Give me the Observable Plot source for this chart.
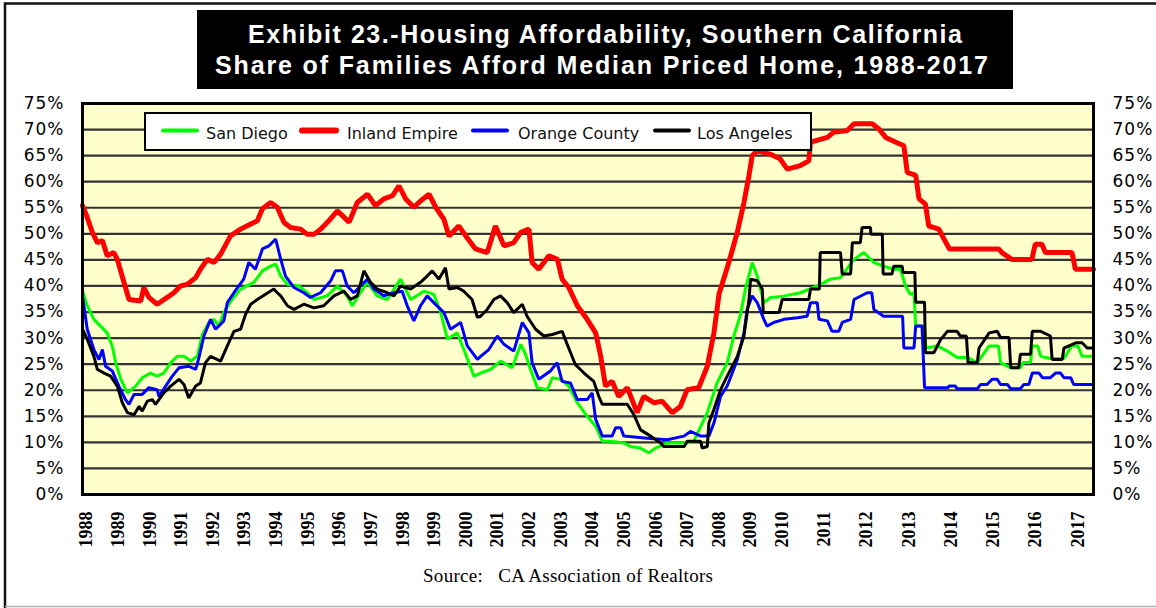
<!DOCTYPE html>
<html>
<head>
<meta charset="utf-8">
<script src="https://cdn.jsdelivr.net/npm/d3@7"></script>
<script src="https://cdn.jsdelivr.net/npm/@observablehq/plot@0.6"></script>
<style>
html, body { margin: 0; padding: 0; background: #fff; }
#page { position: relative; width: 1156px; height: 608px; overflow: hidden; background: #fff; }
#page > svg { position: absolute; left: 0; top: 0; }
g[aria-label="y-axis tick label"] { letter-spacing: 1px; }
</style>
</head>
<body>
<div id="page"></div>
<script>
// ---------- text ----------
const titleLines = [
  "Exhibit 23.-Housing Affordability, Southern California",
  "Share of Families Afford Median Priced Home, 1988-2017"
];
const sourceText = "Source:   CA Association of Realtors";
const seriesNames = ["San Diego", "Inland Empire", "Orange County", "Los Angeles"];
const seriesColors = ["#00ff00", "#ff0000", "#0000ff", "#000000"];
const seriesWidths = [3, 5, 3, 3];

// ---------- ticks ----------
const yTicks = d3.range(0, 80, 5);          // 0% .. 75%
const yearTicks = d3.range(1988, 2018);     // 1988 .. 2017

// ---------- data: [year, share of families (%)] ----------
const sanDiego = [
[1987.87,39.0],[1988.02,36.2],[1988.23,33.6],[1988.44,32.3],[1988.65,31.0],[1988.81,28.5],[1988.92,25.3],
[1989.08,22.1],[1989.29,19.5],[1989.55,20.8],[1989.76,22.4],[1990.02,23.3],[1990.23,22.7],[1990.44,23.3],
[1990.66,25.3],[1990.87,26.5],[1991.08,26.5],[1991.29,25.6],[1991.5,26.5],[1991.66,30.7],[1991.87,33.0],
[1992.03,33.6],[1992.18,32.3],[1992.34,34.9],[1992.55,37.0],[1992.87,39.4],[1993.29,40.7],[1993.56,42.9],
[1993.82,43.8],[1993.98,44.2],[1994.14,41.9],[1994.35,40.3],[1994.71,40.0],[1994.98,38.7],[1995.19,37.4],
[1995.61,38.1],[1995.93,40.0],[1996.24,38.1],[1996.4,36.2],[1996.66,38.7],[1996.88,40.7],[1997.19,38.1],
[1997.51,37.4],[1997.93,41.3],[1998.25,37.4],[1998.67,39.0],[1998.98,38.4],[1999.2,34.9],[1999.41,29.8],
[1999.72,31.0],[1999.93,27.8],[2000.25,22.7],[2000.46,23.3],[2000.78,24.0],[2001.09,25.6],[2001.46,24.3],
[2001.73,28.8],[2001.88,26.9],[2002.04,24.0],[2002.25,20.5],[2002.57,20.1],[2002.73,22.4],[2002.99,22.1],
[2003.25,20.8],[2003.52,17.6],[2003.83,15.0],[2004.1,13.1],[2004.31,10.2],[2004.57,10.2],[2004.99,9.9],
[2005.2,9.2],[2005.51,8.9],[2005.78,8.0],[2005.99,8.9],[2006.36,9.9],[2006.78,9.9],[2007.2,10.2],
[2007.63,15.7],[2007.94,21.4],[2008.26,25.3],[2008.47,30.4],[2008.68,34.5],[2008.84,39.5],[2009.05,44.5],
[2009.21,41.9],[2009.42,36.8],[2009.63,37.8],[2010.0,38.0],[2010.43,38.7],[2010.83,40.0],[2011.14,41.3],
[2011.38,41.6],[2011.7,45.1],[2011.93,46.4],[2012.17,44.5],[2012.4,43.8],[2012.64,43.2],[2012.8,43.2],
[2012.92,40.0],[2013.03,38.4],[2013.12,38.7],[2013.16,32.3],[2013.37,32.3],[2013.4,28.1],[2013.67,28.5],
[2013.91,27.5],[2014.14,26.3],[2014.38,26.3],[2014.62,25.3],[2014.9,28.5],[2015.12,28.5],[2015.17,25.3],
[2015.41,24.3],[2015.64,24.3],[2015.7,25.3],[2015.88,25.3],[2015.92,28.5],[2016.05,28.5],[2016.12,26.5],
[2016.35,26.1],[2016.67,26.1],[2016.85,28.5],[2017.0,28.5],[2017.1,26.5],[2017.37,26.5]
];
const inlandEmpire = [
[1987.87,55.4],[1988.0,53.5],[1988.18,50.3],[1988.34,48.3],[1988.5,48.7],[1988.65,45.8],[1988.86,46.4],
[1988.97,45.1],[1989.18,40.7],[1989.34,37.4],[1989.71,37.1],[1989.81,39.7],[1989.97,37.8],[1990.23,36.5],
[1990.55,37.8],[1990.76,38.7],[1990.97,40.0],[1991.18,40.3],[1991.45,41.6],[1991.6,43.2],[1991.82,45.1],
[1992.03,44.5],[1992.24,46.1],[1992.55,49.6],[1992.87,50.9],[1993.19,51.9],[1993.4,52.5],[1993.56,54.8],
[1993.82,56.0],[1994.03,55.1],[1994.24,52.2],[1994.45,51.2],[1994.77,50.9],[1994.98,49.9],[1995.19,49.9],
[1995.4,50.9],[1995.66,52.5],[1995.93,54.4],[1996.14,53.2],[1996.3,52.2],[1996.56,56.0],[1996.88,57.6],
[1997.14,55.4],[1997.4,56.7],[1997.67,57.3],[1997.88,59.2],[1998.09,56.7],[1998.35,55.1],[1998.56,56.3],
[1998.83,57.6],[1999.04,55.1],[1999.3,52.8],[1999.46,49.6],[1999.77,51.5],[1999.99,49.6],[2000.3,47.1],
[2000.67,46.4],[2000.93,51.5],[2001.2,47.7],[2001.51,48.3],[2001.73,50.3],[2001.99,50.9],[2002.09,44.5],
[2002.3,43.2],[2002.62,45.8],[2002.89,45.1],[2003.04,41.3],[2003.25,39.7],[2003.52,36.2],[2003.83,33.6],
[2004.1,31.0],[2004.26,26.5],[2004.41,20.8],[2004.62,21.7],[2004.83,18.8],[2005.1,20.5],[2005.41,15.7],
[2005.62,18.8],[2005.94,17.6],[2006.2,17.9],[2006.52,15.7],[2006.78,16.9],[2006.99,20.1],[2007.36,20.5],
[2007.63,24.6],[2007.84,31.0],[2008.0,38.4],[2008.31,44.5],[2008.58,50.3],[2008.79,56.0],[2008.95,61.2],
[2009.05,65.0],[2009.21,66.0],[2009.61,65.3],[2009.93,64.4],[2010.12,62.4],[2010.43,63.1],[2010.63,64.0],
[2010.67,67.6],[2011.07,68.5],[2011.22,69.5],[2011.54,69.8],[2011.7,71.1],[2012.13,71.1],[2012.29,70.1],
[2012.45,68.5],[2012.68,67.6],[2012.88,66.9],[2012.96,61.8],[2013.16,61.2],[2013.24,56.7],[2013.39,55.7],
[2013.47,51.5],[2013.71,50.9],[2013.83,49.0],[2013.96,47.1],[2015.13,47.1],[2015.2,46.4],[2015.44,45.1],
[2015.91,45.1],[2015.99,48.0],[2016.15,48.0],[2016.23,46.4],[2016.86,46.4],[2016.94,43.2],[2017.37,43.2]
];
const orangeCounty = [
[1987.87,38.1],[1988.02,31.7],[1988.23,27.8],[1988.39,25.9],[1988.5,27.8],[1988.6,24.6],[1988.81,23.7],
[1989.02,20.8],[1989.23,18.2],[1989.34,17.3],[1989.5,19.2],[1989.76,19.2],[1989.97,20.5],[1990.23,20.1],
[1990.29,18.8],[1990.5,20.8],[1990.71,22.7],[1990.92,24.3],[1991.23,24.6],[1991.45,24.0],[1991.55,26.2],
[1991.71,30.4],[1991.92,33.6],[1992.08,31.7],[1992.34,33.3],[1992.45,36.8],[1992.66,38.7],[1992.97,41.3],
[1993.13,44.5],[1993.34,43.2],[1993.56,47.1],[1993.77,47.7],[1993.98,49.0],[1994.14,45.1],[1994.29,41.9],
[1994.56,39.7],[1994.87,38.7],[1995.08,37.8],[1995.4,38.7],[1995.72,41.0],[1995.87,42.9],[1996.09,42.9],
[1996.24,40.0],[1996.45,38.7],[1996.88,41.3],[1997.09,39.4],[1997.4,38.1],[1997.72,38.7],[1997.98,39.0],
[1998.14,36.2],[1998.35,33.3],[1998.56,36.2],[1998.77,38.1],[1998.98,36.8],[1999.3,34.9],[1999.51,31.7],
[1999.83,33.0],[2000.04,28.5],[2000.36,25.9],[2000.46,26.5],[2000.72,27.8],[2000.99,30.4],[2001.2,28.8],
[2001.51,27.5],[2001.78,33.0],[2001.99,31.0],[2002.09,25.3],[2002.3,22.1],[2002.67,23.7],[2002.88,25.3],
[2003.04,21.7],[2003.3,21.4],[2003.52,18.2],[2003.83,18.2],[2003.99,19.5],[2004.1,14.4],[2004.31,11.2],
[2004.62,11.2],[2004.73,12.8],[2004.89,12.8],[2004.99,11.2],[2005.73,10.8],[2006.36,10.5],[2006.89,11.2],
[2007.1,12.1],[2007.42,11.2],[2007.68,11.2],[2007.84,13.7],[2008.05,18.8],[2008.26,20.8],[2008.42,23.3],
[2008.58,25.9],[2008.79,31.0],[2008.89,35.5],[2009.05,38.1],[2009.21,36.8],[2009.42,33.6],[2009.52,32.3],
[2009.73,33.0],[2010.04,33.6],[2010.36,33.9],[2010.59,34.2],[2010.67,36.8],[2010.83,36.8],[2010.87,33.6],
[2011.07,33.3],[2011.18,31.3],[2011.34,31.3],[2011.42,33.0],[2011.62,33.6],[2011.7,37.4],[2012.01,38.7],
[2012.12,38.7],[2012.17,35.5],[2012.4,34.2],[2012.85,34.2],[2012.88,28.1],[2013.12,28.1],[2013.16,32.3],
[2013.31,32.3],[2013.37,20.5],[2013.93,20.5],[2013.95,20.8],[2014.1,20.8],[2014.14,20.3],[2014.62,20.3],
[2014.7,21.1],[2014.85,21.1],[2014.97,22.1],[2015.09,22.1],[2015.17,21.1],[2015.33,21.1],[2015.41,20.3],
[2015.64,20.3],[2015.72,21.1],[2015.84,21.1],[2015.92,23.3],[2016.08,23.3],[2016.16,22.4],[2016.35,22.4],
[2016.47,23.3],[2016.59,23.3],[2016.67,22.4],[2016.83,22.4],[2016.9,21.1],[2017.37,21.1]
];
const losAngeles = [
[1987.87,31.7],[1988.02,29.8],[1988.23,26.5],[1988.34,24.0],[1988.55,23.3],[1988.76,22.7],[1988.97,20.8],
[1989.13,17.6],[1989.29,15.7],[1989.5,15.3],[1989.66,16.9],[1989.76,16.0],[1989.92,17.9],[1990.08,18.2],
[1990.18,17.3],[1990.44,19.5],[1990.66,20.8],[1990.92,22.1],[1991.08,21.1],[1991.23,18.5],[1991.45,20.8],
[1991.6,21.4],[1991.76,25.3],[1991.92,26.5],[1992.24,25.6],[1992.45,28.5],[1992.66,31.3],[1992.87,31.7],
[1993.03,34.6],[1993.19,36.5],[1993.4,37.4],[1993.71,38.6],[1993.92,39.4],[1994.03,38.7],[1994.14,38.1],
[1994.35,36.2],[1994.56,35.5],[1994.87,36.5],[1995.19,35.8],[1995.5,36.2],[1995.82,38.1],[1996.14,39.0],
[1996.35,37.4],[1996.56,38.1],[1996.77,42.9],[1996.98,40.7],[1997.19,39.4],[1997.51,38.7],[1997.72,38.1],
[1997.93,40.0],[1998.25,39.4],[1998.56,40.7],[1998.77,41.9],[1998.93,42.9],[1999.14,41.3],[1999.35,43.5],
[1999.46,39.4],[1999.72,39.7],[1999.93,39.0],[2000.19,37.4],[2000.36,34.0],[2000.46,34.2],[2000.67,35.5],
[2000.88,37.4],[2001.09,38.1],[2001.3,36.8],[2001.51,34.9],[2001.78,36.5],[2001.93,34.2],[2002.2,31.7],
[2002.46,30.4],[2002.73,30.7],[2003.04,31.3],[2003.2,28.8],[2003.46,24.9],[2003.73,23.3],[2004.04,21.7],
[2004.2,18.8],[2004.31,17.3],[2005.1,17.3],[2005.31,15.3],[2005.52,12.4],[2005.84,11.2],[2006.15,9.9],
[2006.25,9.2],[2006.9,9.2],[2007.0,10.2],[2007.42,10.2],[2007.47,8.9],[2007.63,9.2],[2007.68,13.7],
[2007.84,16.3],[2008.05,20.1],[2008.26,22.7],[2008.58,26.5],[2008.79,30.4],[2008.95,37.4],[2009.0,41.3],
[2009.21,41.0],[2009.37,39.4],[2009.4,34.9],[2009.9,34.9],[2010.0,37.4],[2010.63,37.4],[2010.67,39.4],
[2010.88,39.4],[2010.9,46.4],[2011.38,46.4],[2011.42,42.3],[2011.62,42.3],[2011.66,48.3],[2011.85,48.3],
[2011.89,51.2],[2012.09,51.2],[2012.1,49.9],[2012.37,49.9],[2012.39,42.3],[2012.6,42.3],[2012.64,43.8],
[2012.84,43.8],[2012.86,42.6],[2013.14,42.6],[2013.16,36.9],[2013.37,36.9],[2013.39,27.2],[2013.59,27.2],
[2013.75,29.7],[2013.91,31.3],[2014.14,31.3],[2014.22,30.4],[2014.36,30.4],[2014.4,25.3],[2014.62,25.3],
[2014.66,28.1],[2014.9,31.0],[2015.09,31.3],[2015.17,30.1],[2015.37,30.1],[2015.41,24.3],[2015.6,24.3],
[2015.64,26.9],[2015.88,26.9],[2015.92,31.3],[2016.12,31.3],[2016.35,30.4],[2016.39,25.9],[2016.63,25.9],
[2016.67,28.1],[2016.95,29.1],[2017.1,29.1],[2017.22,28.1],[2017.37,28.1]
];
const seriesData = [sanDiego, inlandEmpire, orangeCounty, losAngeles];

// ---------- layout ----------
const W = 1156, H = 608;
const mL = 82, mR = 63, mT = 103, mB = 114;
const plotW = W - mL - mR;
// the category axis is wider per year after 2010 than before it
const xDomain = [1987.87, 2010, 2017.37];
const xRange = [mL, mL + plotW * 0.6921, W - mR];

const page = document.getElementById("page");

const lineMarks = seriesData.map((data, i) =>
  Plot.line(data, {x: d => d[0], y: d => d[1], stroke: seriesColors[i],
                   strokeWidth: seriesWidths[i], strokeLinejoin: "miter"}));

const chart = Plot.plot({
  width: W, height: H,
  marginLeft: mL, marginRight: mR, marginTop: mT, marginBottom: mB,
  style: {background: "transparent", fontFamily: "DejaVu Sans", color: "#000"},
  x: {type: "linear", domain: xDomain, range: xRange},
  y: {domain: [0, 75]},
  marks: [
    Plot.frame({fill: "#ffffcc"}),
    Plot.ruleY(yTicks.filter(d => d > 0 && d < 75), {stroke: "#333", strokeWidth: 2.2}),
    ...lineMarks,
    Plot.frame({stroke: "#000", strokeWidth: 3}),
    Plot.axisY(yTicks, {anchor: "left", tickSize: 0, tickPadding: 18, label: null,
      tickFormat: d => d + "%", fontSize: 17, fontFamily: "DejaVu Sans", fill: "#000"}),
    Plot.axisY(yTicks, {anchor: "right", tickSize: 0, tickPadding: 19, label: null,
      tickFormat: d => d + "%", fontSize: 17, fontFamily: "DejaVu Sans", fill: "#000"}),
    Plot.axisX(yearTicks, {anchor: "bottom", tickSize: 0, tickPadding: 17, tickRotate: -90, label: null,
      tickFormat: d => String(d), fontSize: 18, fontFamily: "Liberation Serif", fontWeight: "bold", fill: "#000"})
  ]
});
page.appendChild(chart);

// ---------- overlay: frame, title, legend, source ----------
const ov = d3.select(page).append("svg").attr("width", W).attr("height", H);

ov.append("path").attr("d", `M5,${H} V3.5 H${W}`).attr("fill", "none").attr("stroke", "#111").attr("stroke-width", 2.5);
ov.append("line").attr("x1", 5).attr("x2", W).attr("y1", 606.5).attr("y2", 606.5).attr("stroke", "#b0b0b0").attr("stroke-width", 1.5);

ov.append("rect").attr("x", 197).attr("y", 10).attr("width", 816).attr("height", 79).attr("fill", "#000");
const titleY = [43.3, 74], titleLen = [714, 773], titleX = [605, 601.5];
titleLines.forEach((t, i) => {
  ov.append("text").attr("x", titleX[i]).attr("y", titleY[i]).attr("text-anchor", "middle")
    .attr("textLength", titleLen[i]).attr("lengthAdjust", "spacing")
    .attr("font-family", "Liberation Sans, Arial, sans-serif").attr("font-size", 25)
    .attr("font-weight", "bold").attr("fill", "#fff").text(t);
});

// legend
ov.append("rect").attr("x", 145).attr("y", 113).attr("width", 666).attr("height", 37)
  .attr("fill", "#fff").attr("stroke", "#000").attr("stroke-width", 2);
const legendSwatchX = [163, 302, 473, 655];
const legendTextX = [206, 347, 518, 697];
const legendSwatchW = [4, 6, 4, 4];
seriesNames.forEach((name, i) => {
  ov.append("line").attr("x1", legendSwatchX[i]).attr("x2", legendSwatchX[i] + 34)
    .attr("y1", 130.5).attr("y2", 130.5).attr("stroke", seriesColors[i])
    .attr("stroke-width", legendSwatchW[i]).attr("stroke-linecap", "round");
  ov.append("text").attr("x", legendTextX[i]).attr("y", 139)
    .attr("font-family", "DejaVu Sans").attr("font-size", 16).attr("fill", "#111").text(name);
});

// source
ov.append("text").attr("x", 568).attr("y", 582.3).attr("text-anchor", "middle")
  .attr("textLength", 290).attr("lengthAdjust", "spacing")
  .style("white-space", "pre")
  .attr("font-family", "Liberation Serif, Times New Roman, serif").attr("font-size", 19)
  .attr("fill", "#000").text(sourceText);
</script>
</body>
</html>
